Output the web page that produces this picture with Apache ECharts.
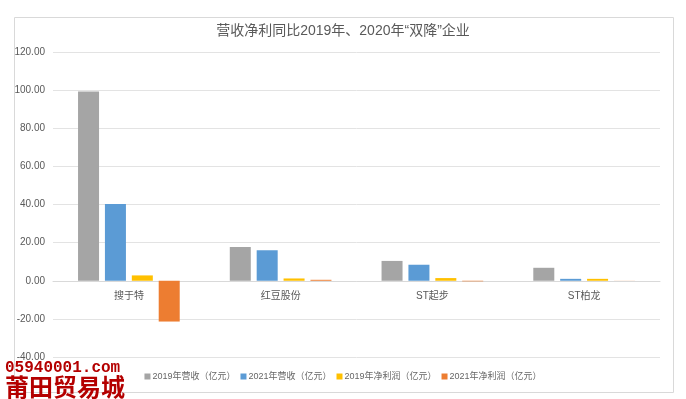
<!DOCTYPE html>
<html>
<head>
<meta charset="utf-8">
<script src="https://cdn.jsdelivr.net/npm/echarts@6/dist/echarts.min.js"></script>
<style>
  html, body { margin: 0; padding: 0; background: #fff; }
  #chart { width: 686px; height: 399px; }
</style>
</head>
<body>
<div id="chart"></div>
<script>
var companies = ['搜于特', '红豆股份', 'ST起步', 'ST柏龙'];
var seriesNames = ['2019年营收（亿元）', '2021年营收（亿元）', '2019年净利润（亿元）', '2021年净利润（亿元）'];
var revenue2019 = [99.3, 17.7, 10.4, 6.8];
var revenue2021 = [40.3, 16.0, 8.4, 1.0];
var profit2019 = [2.8, 1.2, 1.4, 1.0];
var profit2021 = [-21.4, 0.5, -0.3, 0.05];
var colors = ['#a5a5a5', '#5b9bd5', '#ffc000', '#ed7d31'];

var font = '"Liberation Sans", "Noto Sans CJK SC", sans-serif';
var chart = echarts.init(document.getElementById('chart'), null, { renderer: 'canvas' });

var values = [revenue2019, revenue2021, profit2019, profit2021];
var series = values.map(function (v, i) {
  return {
    name: seriesNames[i],
    type: 'bar',
    data: v,
    barGap: '28%',
    barCategoryGap: '33%',
    itemStyle: { color: colors[i] }
  };
});

// labels sit on the zero line, not at the bottom of the grid
var gridTop = 52, gridBottom = 42;
var yMin = -40, yMax = 120;
var plotH = 399 - gridTop - gridBottom;
var zeroOffset = -Math.round(plotH * (0 - yMin) / (yMax - yMin));

chart.setOption({
  animation: false,
  color: colors,
  title: {
    text: '营收净利同比2019年、2020年“双降”企业',
    left: 'center',
    top: 19,
    textStyle: { color: '#595959', fontSize: 14, fontWeight: 'normal', fontFamily: font }
  },
  legend: {
    bottom: 13,
    left: 'center',
    itemWidth: 6,
    itemHeight: 6,
    itemGap: 5,
    icon: 'rect',
    textStyle: { color: '#666', fontSize: 9, fontFamily: font, padding: [0, 0, 0, -3] }
  },
  grid: { left: 53, right: 26, top: gridTop, bottom: gridBottom },
  xAxis: {
    type: 'category',
    data: companies,
    offset: zeroOffset,
    axisLine: { onZero: false, lineStyle: { color: '#d9d9d9' } },
    axisTick: { show: false },
    axisLabel: { color: '#595959', fontSize: 10, fontFamily: font, margin: 10 }
  },
  yAxis: {
    type: 'value',
    min: yMin,
    max: yMax,
    interval: 20,
    axisLine: { show: false },
    axisTick: { show: false },
    splitLine: { lineStyle: { color: '#e3e3e3' } },
    axisLabel: {
      color: '#595959', fontSize: 10, fontFamily: font, margin: 8,
      formatter: function (v) { return v.toFixed(2); }
    }
  },
  series: series,
  graphic: [
    {
      type: 'rect', left: 12, top: 15, silent: true,
      shape: { width: 659, height: 375 },
      style: { fill: 'none', stroke: '#d9d9d9', lineWidth: 1 }
    },
    {
      type: 'text', left: 5, top: 360, silent: true,
      style: { text: '05940001.com', fill: '#b40000', font: 'bold 16px "Liberation Mono", monospace' }
    },
    {
      type: 'text', left: 5, top: 375, silent: true,
      style: { text: '莆田贸易城', fill: '#b40000', font: 'bold 24px "Noto Sans CJK SC", sans-serif' }
    }
  ]
});

window.addEventListener('resize', function () { chart.resize(); });
</script>
</body>
</html>
